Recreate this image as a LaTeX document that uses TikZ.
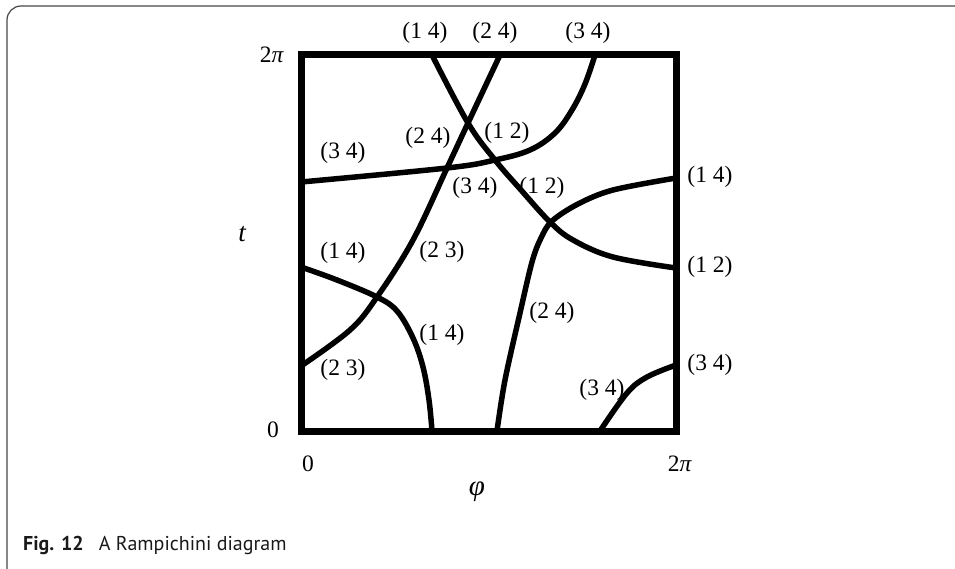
\documentclass[tikz,border=0pt]{standalone}
\usepackage{fontspec}
\setmainfont{Liberation Serif}
\newfontfamily\capfont{PT Sans}
\begin{document}
\begin{tikzpicture}[x=1pt,y=-1pt,
  lbl/.style={font=\fontsize{23.5}{23.5}\selectfont, inner sep=0pt},
  curve/.style={line width=5.5pt, line cap=butt, line join=round},
  boxline/.style={line width=7pt, line join=miter},
  frame/.style={line width=1.2pt, draw=black!72, rounded corners=14pt}]
\useasboundingbox (0,0) rectangle (955,569);
\begin{scope}
\clip (0,0) rectangle (955,569);
\draw[frame] (7,6) rectangle (1010,590);
\end{scope}

% end points on the square
\coordinate (A0) at (301,182); \coordinate (A1) at (595,55);
\coordinate (B0) at (432,55);  \coordinate (B1) at (676,268);
\coordinate (C0) at (500,55);  \coordinate (C1) at (301,366);
\coordinate (D0) at (301,267); \coordinate (D1) at (432,431);
\coordinate (E0) at (497,431); \coordinate (E1) at (676,178);
\coordinate (F0) at (600,431); \coordinate (F1) at (676,365);

\draw[curve] plot[smooth, tension=0.6] coordinates {(A0) (447,168) (495,160) (530,150) (555,133) (572,110) (585,84) (A1)};
\draw[curve] plot[smooth, tension=0.6] coordinates {(B0) (468,123) (495,160) (521,190) (550,222) (573,240) (613,257) (B1)};
\draw[curve] plot[smooth, tension=0.6] coordinates {(C0) (468,123) (447,168) (413,240) (377,297) (350,330) (C1)};
\draw[curve] plot[smooth, tension=0.6] coordinates {(D0) (337,280) (377,297) (397,311) (413,338) (423,367) (429,400) (D1)};
\draw[curve] plot[smooth, tension=0.55] coordinates {(E0) (505,380) (520,313) (532,262) (541,238) (552,221) (578,204) (613,190) (E1)};
\draw[curve] plot[smooth, tension=0.6] coordinates {(F0) (627,393) (647,377) (F1)};

\draw[boxline] (301,55) rectangle (676,431);
\node[inner sep=0pt, minimum width=375pt, minimum height=376pt] (sq) at (488.5,243) {};

% labels
\node[lbl] (t14) at (425,33) {(1 4)};
\node[lbl] (t24) at (495,33) {(2 4)};
\node[lbl] (t34) at (588,33) {(3 4)};
\node[lbl] (l34) at (343,153) {(3 4)};
\node[lbl] (m24) at (428,138) {(2 4)};
\node[lbl] (m12a) at (507,133) {(1 2)};
\node[lbl] (m34) at (475,188) {(3 4)};
\node[lbl] (m12b) at (542,188) {(1 2)};
\node[lbl] (l14) at (343,253) {(1 4)};
\node[lbl] (m23) at (442,252) {(2 3)};
\node[lbl] (m14) at (442,335) {(1 4)};
\node[lbl] (r24) at (552,313) {(2 4)};
\node[lbl] (l23) at (343,370) {(2 3)};
\node[lbl] (b34) at (602,390) {(3 4)};
\node[lbl] (r14) at (710,177) {(1 4)};
\node[lbl] (r12) at (710,267) {(1 2)};
\node[lbl] (r34) at (710,365) {(3 4)};

\node[lbl] (ytop) at (272,55) {2\textit{π}};
\node[lbl] (ybot) at (273,430) {0};
\node[lbl, font=\fontsize{27}{27}\selectfont\itshape] (ylab) at (242,234) {t};
\node[lbl] (xl) at (308,464) {0};
\node[lbl] (xr) at (680,464) {2\textit{π}};
\node[lbl, font=\fontsize{29}{29}\selectfont\itshape] (xlab) at (477,492) {φ};

\node[anchor=west, inner sep=0pt, font=\capfont\fontsize{20}{20}\selectfont, text=black!90] (cap) at (23,545) {\textbf{Fig. 12}\hspace{15pt}A Rampichini diagram};
\end{tikzpicture}
\end{document}
